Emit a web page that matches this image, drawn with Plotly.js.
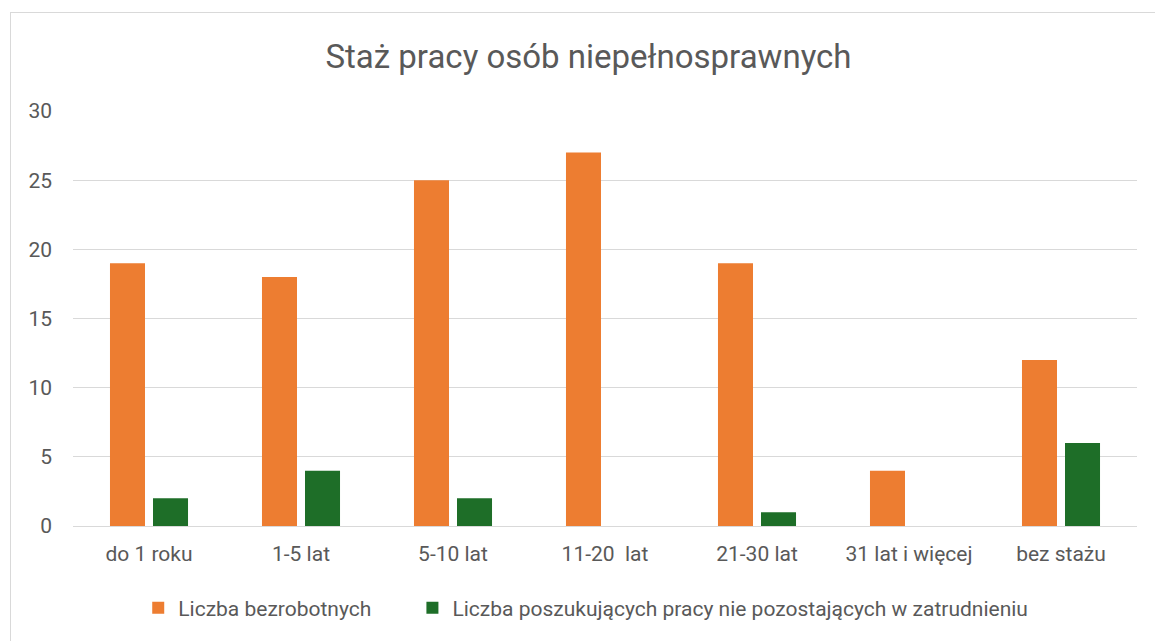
<!DOCTYPE html>
<html>
<head>
<meta charset="utf-8">
<script src="https://cdn.plot.ly/plotly-3.0.1.min.js"></script>
<style>
html,body{margin:0;padding:0;background:#fff;}
#frame{position:absolute;left:10px;top:12px;width:1160px;height:640px;border-left:1.5px solid #d9d9d9;border-top:1.5px solid #d9d9d9;box-sizing:border-box;}
#chart{position:absolute;left:0;top:0;width:1155px;height:641px;}
</style>
</head>
<body>
<div id="frame"></div>
<div id="chart"></div>
<script>
const categories = ["do 1 roku", "1-5 lat", "5-10 lat", "11-20\u00a0 lat", "21-30 lat", "31 lat i więcej", "bez stażu"];
const bezrobotni = [19, 18, 25, 27, 19, 4, 12];
const poszukujacy = [2, 4, 2, 0, 1, 0, 6];
const seriesNames = ["Liczba bezrobotnych", "Liczba poszukujących pracy nie pozostających w zatrudnieniu"];
const yTicks = [0, 5, 10, 15, 20, 25, 30];

const FONT = "Roboto, 'Open Sans', sans-serif";
const traces = [
  {type: "bar", x: categories, y: bezrobotni, name: seriesNames[0], marker: {color: "#ED7D31"}, legend: "legend"},
  {type: "bar", x: categories, y: poszukujacy, name: seriesNames[1], marker: {color: "#1E6E28"}, legend: "legend2"}
];
const legendCommon = {orientation: "h", xanchor: "left", y: -0.198, yanchor: "middle", font: {size: 21, color: "#595959"}, itemwidth: 30, bgcolor: "rgba(0,0,0,0)"};
const layout = {
  width: 1155, height: 641,
  paper_bgcolor: "rgba(0,0,0,0)", plot_bgcolor: "rgba(0,0,0,0)",
  margin: {l: 73, r: 18, t: 111, b: 115},
  barmode: "group", bargap: 0.434, bargroupgap: 0.186,
  font: {family: FONT, color: "#595959", size: 21},
  title: {text: "Staż pracy osób niepełnosprawnych", x: 0.5095, xref: "container", xanchor: "center", y: 0.912, yanchor: "middle", font: {family: FONT, size: 33, color: "#595959"}},
  xaxis: {type: "category", showgrid: false, showline: false, zeroline: false, ticks: "", ticklabelstandoff: 13, tickfont: {size: 21, color: "#595959"}},
  yaxis: {range: [0, 30], tickvals: yTicks, showgrid: true, gridcolor: "#d9d9d9", gridwidth: 1, zeroline: true, zerolinecolor: "#d9d9d9", showline: false, ticks: "", ticklabelstandoff: 20, tickfont: {size: 21, color: "#595959"}},
  showlegend: true,
  legend: Object.assign({}, legendCommon, {x: 0.0613}),
  legend2: Object.assign({}, legendCommon, {x: 0.319})
};
Plotly.newPlot("chart", traces, layout, {displayModeBar: false, staticPlot: true});
</script>
</body>
</html>
